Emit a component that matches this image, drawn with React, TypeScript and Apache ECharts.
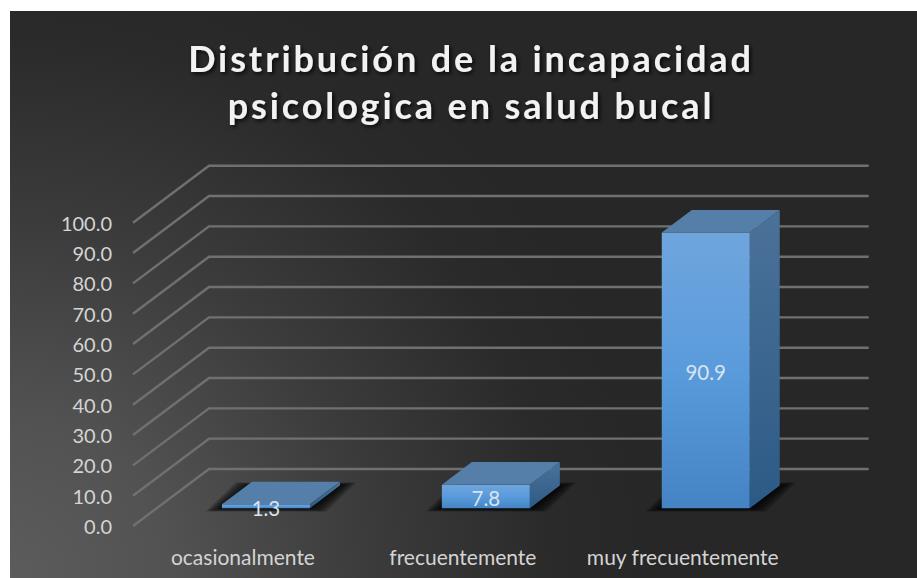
import React, { useEffect, useRef } from "react";
import * as echarts from "echarts";

const titleLines = ["Distribución de la incapacidad", "psicologica en salud bucal"];
const categories = ["ocasionalmente", "frecuentemente", "muy frecuentemente"];
const values = [1.3, 7.8, 90.9];
const yTicks = [0, 10, 20, 30, 40, 50, 60, 70, 80, 90, 100];
const shadowSpreads = [16, 13, 10, 7, 4, 2];

const FONT = "Lato, Carlito, 'Noto Sans', sans-serif";
const WALL_DX = 76;
const WALL_DY = 57;
const BAR_OFFSET_X = 23;
const BAR_OFFSET_Y = 17.7;
const BAR_DX = 30;
const BAR_DY = 22.7;
const BAR_BAND_SHARE = 0.4;

const renderWall = (_params: any, api: any) => {
  const rect = _params.coordSys;
  const [, y] = api.coord([0, api.value(0)]);
  return {
    type: "polyline",
    silent: true,
    shape: {
      points: [
        [rect.x, y],
        [rect.x + WALL_DX, y - WALL_DY],
        [rect.x + rect.width + WALL_DX, y - WALL_DY],
      ],
    },
    style: { stroke: "#707070", lineWidth: 2.4, fill: "none" },
  };
};

const renderBar = (_params: any, api: any) => {
  const cat = api.value(0);
  const val = api.value(1);
  const [cx, yTop0] = api.coord([cat, val]);
  const [, yBase0] = api.coord([cat, 0]);
  const w = api.size([1, 0])[0] * BAR_BAND_SHARE;
  const x0 = cx - w / 2 + BAR_OFFSET_X;
  const x1 = x0 + w;
  const yb = yBase0 - BAR_OFFSET_Y;
  const yt = yTop0 - BAR_OFFSET_Y;
  const floorShadow = shadowSpreads.map((s) => ({
    type: "polygon",
    shape: {
      points: [
        [x0 - s, yb + s * 0.2],
        [x1 + s, yb + s * 0.2],
        [x1 + BAR_DX + s, yb - BAR_DY - s * 0.2],
        [x0 + BAR_DX - s, yb - BAR_DY - s * 0.2],
      ],
    },
    style: { fill: "rgba(0,0,0,0.24)" },
  }));
  return {
    type: "group",
    silent: true,
    children: [
      ...floorShadow,
      {
        type: "polygon",
        shape: {
          points: [
            [x1, yt],
            [x1 + BAR_DX, yt - BAR_DY],
            [x1 + BAR_DX, yb - BAR_DY],
            [x1, yb],
          ],
        },
        style: {
          fill: new echarts.graphic.LinearGradient(0, 0, 0, 1, [
            { offset: 0, color: "#4b7299" },
            { offset: 1, color: "#2c5a86" },
          ]),
        },
      },
      {
        type: "rect",
        shape: { x: x0, y: yt, width: w, height: yb - yt },
        style: {
          fill: new echarts.graphic.LinearGradient(0, 0, 0, 1, [
            { offset: 0, color: "#6fa5dd" },
            { offset: 0.5, color: "#5a9bdc" },
            { offset: 1, color: "#4484c4" },
          ]),
        },
      },
      {
        type: "polygon",
        shape: {
          points: [
            [x0, yt],
            [x0 + BAR_DX, yt - BAR_DY],
            [x1 + BAR_DX, yt - BAR_DY],
            [x1, yt],
          ],
        },
        style: { fill: "#557ea8" },
      },
      {
        type: "text",
        style: {
          x: (x0 + x1) / 2,
          y: (yt + yb) / 2 + 2,
          text: val.toFixed(1),
          fill: "#d9e4ef",
          font: `20.5px ${FONT}`,
          align: "center",
          verticalAlign: "middle",
        },
      },
    ],
  };
};

export default function App() {
  const ref = useRef<HTMLDivElement>(null);
  useEffect(() => {
    const chart = echarts.init(ref.current!, undefined, { renderer: "svg" });
    chart.setOption({
      animation: false,
      backgroundColor: "#ffffff",
      textStyle: { fontFamily: FONT },
      title: {
        text: titleLines.join("\n"),
        left: 466,
        top: 29,
        textAlign: "center",
        textStyle: {
          color: "#f2f2f2",
          fontFamily: FONT,
          fontSize: 36,
          fontWeight: "bold",
          lineHeight: 47,
          textShadowColor: "rgba(0,0,0,0.8)",
          textShadowBlur: 4,
          textShadowOffsetX: 2,
          textShadowOffsetY: 2,
        },
      },
      graphic: [
        {
          type: "rect",
          silent: true,
          z: -10,
          shape: { x: 10, y: 11, width: 907, height: 567 },
          style: {
            fill: new echarts.graphic.RadialGradient(
              10,
              578,
              640,
              [
                { offset: 0, color: "#5c5c5c" },
                { offset: 0.25, color: "#525252" },
                { offset: 0.55, color: "#3c3c3c" },
                { offset: 0.85, color: "#2a2a2a" },
                { offset: 1, color: "#272727" },
              ],
              true,
            ),
          },
        },
      ],
      grid: { left: 133, top: 222.7, width: 659.7, height: 303.3, containLabel: false },
      xAxis: {
        type: "category",
        data: categories,
        axisLine: { show: false },
        axisTick: { show: false },
        axisLabel: { color: "#d4d4d4", fontSize: 21, fontFamily: FONT, margin: 20, interval: 0 },
      },
      yAxis: {
        type: "value",
        min: 0,
        max: 100,
        interval: 10,
        axisLine: { show: false },
        axisTick: { show: false },
        splitLine: { show: false },
        axisLabel: {
          color: "#d4d4d4",
          fontSize: 20,
          fontFamily: FONT,
          margin: 21,
          padding: [4, 0, 0, 0],
          formatter: (v: number) => v.toFixed(1),
        },
      },
      series: [
        {
          type: "custom",
          coordinateSystem: "cartesian2d",
          clip: false,
          silent: true,
          z: 2,
          data: yTicks.map((t) => [t]),
          encode: { y: 0 },
          renderItem: renderWall,
        },
        {
          type: "custom",
          coordinateSystem: "cartesian2d",
          clip: false,
          silent: true,
          z: 3,
          data: values.map((v, i) => [i, v]),
          encode: { x: 0, y: 1 },
          renderItem: renderBar,
        },
      ],
    });
    ref.current!.querySelectorAll("text").forEach((t) => {
      if (titleLines.includes((t.textContent || "").trim())) t.setAttribute("letter-spacing", "2.9");
    });
    return () => chart.dispose();
  }, []);
  return <div ref={ref} style={{ position: "fixed", left: 0, top: 0, width: 917, height: 578 }} />;
}
